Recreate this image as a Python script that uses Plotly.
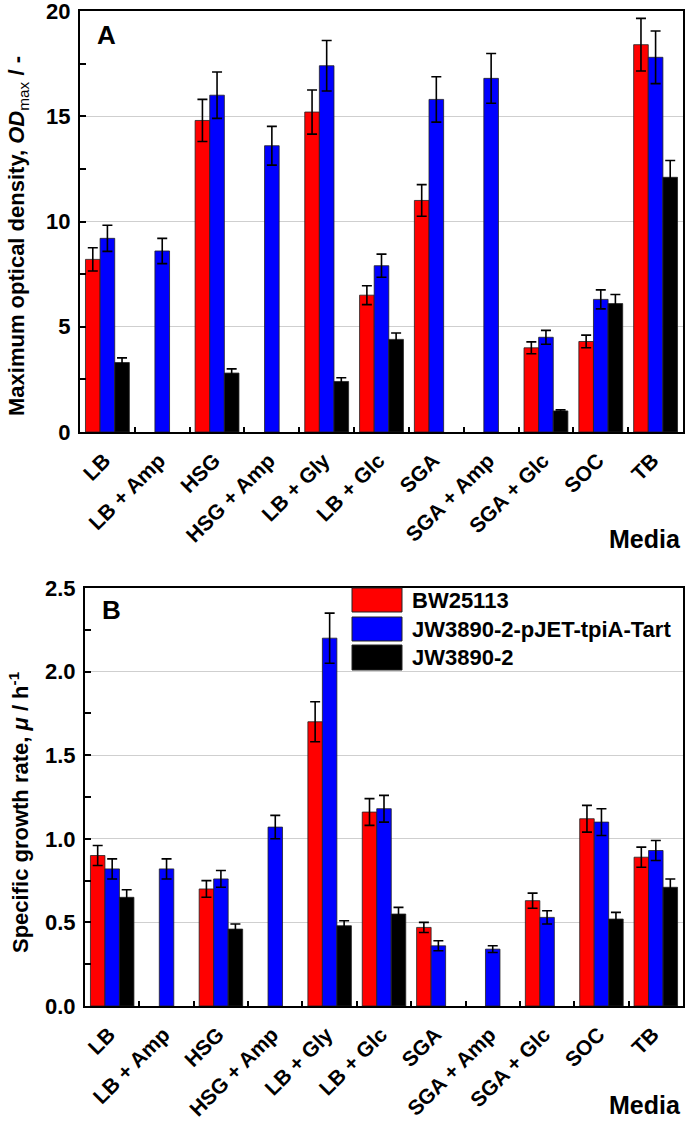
import plotly.graph_objects as go

media = ["LB", "LB + Amp", "HSG", "HSG + Amp", "LB + Gly", "LB + Glc", "SGA",
         "SGA + Amp", "SGA + Glc", "SOC", "TB"]
strains = ["BW25113", "JW3890-2-pJET-tpiA-Tart", "JW3890-2"]
colors = ["#FF0000", "#0000FF", "#000000"]

# Panel A: maximum optical density
od_bw = [8.2, None, 14.8, None, 15.2, 6.5, 11.0, None, 4.0, 4.3, 18.4]
od_bw_err = [0.55, None, 1.0, None, 1.05, 0.45, 0.75, None, 0.28, 0.3, 1.25]
od_tpia = [9.2, 8.6, 16.0, 13.6, 17.4, 7.9, 15.8, 16.8, 4.5, 6.3, 17.8]
od_tpia_err = [0.62, 0.6, 1.1, 0.92, 1.2, 0.55, 1.08, 1.18, 0.33, 0.45, 1.25]
od_jw = [3.3, None, 2.8, None, 2.4, 4.4, None, None, 1.0, 6.1, 12.1]
od_jw_err = [0.22, None, 0.2, None, 0.18, 0.3, None, None, 0.05, 0.43, 0.8]

# Panel B: specific growth rate
mu_bw = [0.90, None, 0.70, None, 1.70, 1.16, 0.47, None, 0.63, 1.12, 0.89]
mu_bw_err = [0.06, None, 0.05, None, 0.12, 0.08, 0.03, None, 0.045, 0.08, 0.06]
mu_tpia = [0.82, 0.82, 0.76, 1.07, 2.20, 1.18, 0.36, 0.34, 0.53, 1.10, 0.93]
mu_tpia_err = [0.06, 0.06, 0.05, 0.07, 0.15, 0.08, 0.03, 0.02, 0.04, 0.08, 0.06]
mu_jw = [0.65, None, 0.46, None, 0.48, 0.55, None, None, None, 0.52, 0.71]
mu_jw_err = [0.045, None, 0.03, None, 0.03, 0.04, None, None, None, 0.04, 0.05]

W, H = 685, 1125
FONT = "Liberation Sans, Arial, sans-serif"

fig = go.Figure()

def add_bars(vals, errs, xa, ya):
    for name, color, v, e in zip(strains, colors, vals, errs):
        fig.add_trace(go.Bar(
            x=media, y=v, name=name, xaxis=xa, yaxis=ya, showlegend=False,
            marker=dict(color=color, line=dict(color="#222222", width=0.8)),
            error_y=dict(type="data", array=e, color="black", thickness=1.6, width=5),
        ))

add_bars([od_bw, od_tpia, od_jw], [od_bw_err, od_tpia_err, od_jw_err], "x", "y")
add_bars([mu_bw, mu_tpia, mu_jw], [mu_bw_err, mu_tpia_err, mu_jw_err], "x2", "y2")

def px_x(p):
    return p / W

def px_y(p):
    return 1 - p / H

tickfont = dict(family=FONT, size=22, color="black", weight="bold")
xtickfont = dict(family=FONT, size=21, color="black", weight="bold")

xcommon = dict(type="category", tickangle=-45, tickson="boundaries", ticks="inside",
               ticklen=5, tickwidth=1.5, tickcolor="black", showline=True, linewidth=2,
               linecolor="black", mirror=True, showgrid=False, tickfont=xtickfont,
               ticklabelstandoff=6, ticklabelshift=-3, automargin=False,
               ticklabeloverflow="allow")
ycommon = dict(ticks="inside", ticklen=6, tickwidth=1.5, tickcolor="black", showline=True,
               linewidth=2, linecolor="black", mirror=True, showgrid=True,
               gridcolor="#cfcfcf", gridwidth=1, zeroline=False, tickfont=tickfont,
               ticklabelstandoff=3, automargin=False, ticklabeloverflow="allow")

fig.update_layout(
    template="none",
    width=W, height=H, margin=dict(l=0, r=0, t=0, b=0, pad=0, autoexpand=False),
    paper_bgcolor="white", plot_bgcolor="white",
    barmode="group", bargap=0.2, bargroupgap=0, showlegend=False,
    font=dict(family=FONT, color="black"),
    xaxis=dict(domain=[px_x(80), px_x(683)], anchor="y", **xcommon),
    yaxis=dict(domain=[px_y(432), px_y(11)], anchor="x", range=[0, 20], dtick=5,
               minor=dict(dtick=2.5, ticks="inside", ticklen=6, tickcolor="black", showgrid=False),
               **ycommon),
    xaxis2=dict(domain=[px_x(85), px_x(683)], anchor="y2", **xcommon),
    yaxis2=dict(domain=[px_y(1006), px_y(588)], anchor="x2", range=[0, 2.5], dtick=0.5,
                tickformat=".1f",
                minor=dict(dtick=0.25, ticks="inside", ticklen=6, tickcolor="black", showgrid=False),
                **ycommon),
)

ann = []
# y axis titles
ann.append(dict(text="<b>Maximum optical density, <i>OD</i></b><sub>max</sub><b> / -</b>",
                x=px_x(18), y=px_y(236), xref="paper", yref="paper", textangle=-90,
                showarrow=False, font=dict(family=FONT, size=22, color="black"),
                xanchor="center", yanchor="middle"))
ann.append(dict(text="<b>Specific growth rate, <i>\u03bc</i> / h<sup>-1</sup></b>",
                x=px_x(19), y=px_y(812), xref="paper", yref="paper", textangle=-90,
                showarrow=False, font=dict(family=FONT, size=22, color="black"),
                xanchor="center", yanchor="middle"))
# x axis titles
for yy in (539, 1105):
    ann.append(dict(text="<b>Media</b>", x=px_x(683), y=px_y(yy), xref="paper", yref="paper",
                    showarrow=False, font=dict(family=FONT, size=25, color="black"),
                    xanchor="right", yanchor="middle"))
# panel letters
ann.append(dict(text="<b>A</b>", x=px_x(106), y=px_y(35), xref="paper", yref="paper",
                showarrow=False, font=dict(family=FONT, size=26, color="black"),
                xanchor="center", yanchor="middle"))
ann.append(dict(text="<b>B</b>", x=px_x(111), y=px_y(610), xref="paper", yref="paper",
                showarrow=False, font=dict(family=FONT, size=26, color="black"),
                xanchor="center", yanchor="middle"))

# custom legend in panel B
shapes = []
box_tops = [588, 617, 645]
box_bots = [612, 641, 670]
for name, color, t, b in zip(strains, colors, box_tops, box_bots):
    shapes.append(dict(type="rect", xref="paper", yref="paper",
                       x0=px_x(352), x1=px_x(402), y0=px_y(b), y1=px_y(t),
                       fillcolor=color, line=dict(color="#222222", width=1)))
    ann.append(dict(text="<b>" + name + "</b>", x=px_x(410), y=px_y((t + b) / 2),
                    xref="paper", yref="paper", showarrow=False,
                    font=dict(family=FONT, size=22, color="black"),
                    xanchor="left", yanchor="middle"))

fig.update_layout(annotations=ann, shapes=shapes)

fig.write_html("out.html", config={"displayModeBar": False},
               post_script="document.body.style.margin='0';document.body.style.overflow='hidden';")
